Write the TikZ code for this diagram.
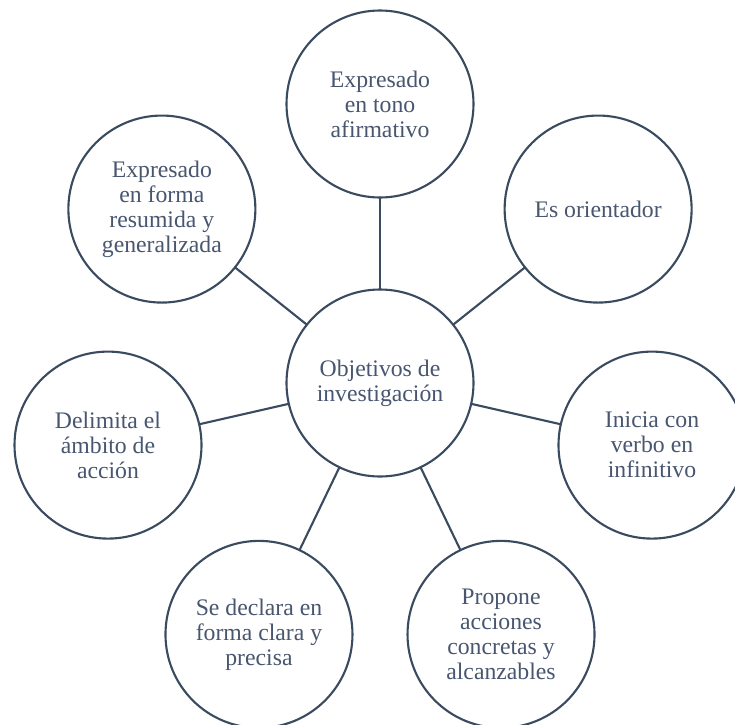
\documentclass[tikz,border=0pt]{standalone}
\usepackage{fontspec}
\setmainfont{Liberation Serif}
\definecolor{OBJLine}{HTML}{3B4B5F}
\definecolor{OBJText}{HTML}{485670}
\tikzset{
  objcircle/.style={circle,draw=OBJLine,line width=1.2pt,fill=white,minimum size=3.74cm,
    inner sep=0pt,outer sep=0pt,align=center,text=OBJText,font=\fontsize{13.5}{14.2}\selectfont},
  objlink/.style={draw=OBJLine,line width=1.2pt}
}

\begin{document}
\begin{tikzpicture}[line cap=round,line join=round]
  \useasboundingbox (-7.6,-6.82) rectangle (7.1,7.66);
  \node[objcircle] (obj) at (0,0) {Objetivos de\\investigación};
  \node[objcircle] (tono) at (90:5.58) {Expresado\\en tono\\afirmativo};
  \node[objcircle] (orient) at (38.57:5.58) {Es orientador};
  \node[objcircle] (verbo) at (-12.86:5.58) {Inicia con\\verbo en\\infinitivo};
  \node[objcircle] (acciones) at (-64.29:5.58) {Propone\\acciones\\concretas y\\alcanzables};
  \node[objcircle] (clara) at (-115.71:5.58) {Se declara en\\forma clara y\\precisa};
  \node[objcircle] (ambito) at (-167.14:5.58) {Delimita el\\ámbito de\\acción};
  \node[objcircle] (resumida) at (141.43:5.58) {Expresado\\en forma\\resumida y\\generalizada};
  \draw[objlink] (obj) -- (tono);
  \draw[objlink] (obj) -- (orient);
  \draw[objlink] (obj) -- (verbo);
  \draw[objlink] (obj) -- (acciones);
  \draw[objlink] (obj) -- (clara);
  \draw[objlink] (obj) -- (ambito);
  \draw[objlink] (obj) -- (resumida);
\end{tikzpicture}
\end{document}
